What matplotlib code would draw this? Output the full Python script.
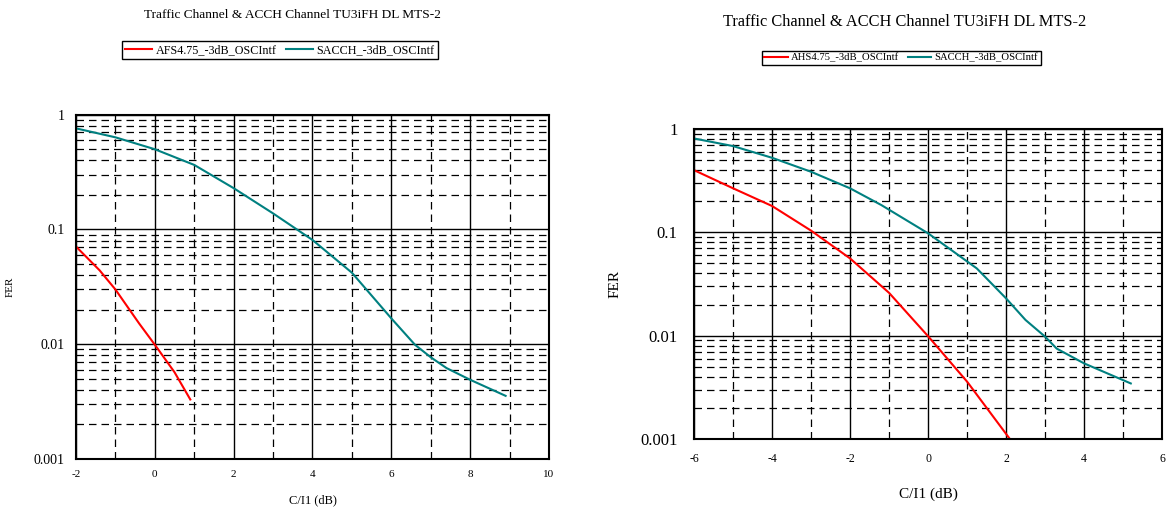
import numpy as np
import matplotlib
matplotlib.use("Agg")
import matplotlib.pyplot as plt
from matplotlib.ticker import FixedLocator, LogLocator, NullFormatter, FixedFormatter

plt.rcParams['font.family'] = ['Liberation Serif', 'DejaVu Serif']
plt.rcParams['axes.unicode_minus'] = False

TITLE = "Traffic Channel & ACCH Channel TU3iFH DL MTS-2"

# left chart (full rate)
afs_x = [-2, -1.4, -1, -0.4, 0, 0.5, 0.9]
afs_fer = [0.071, 0.044, 0.030, 0.0152, 0.0099, 0.0057, 0.0033]
sacch_l_x = [-2, -1, 0, 1, 2, 3, 4, 5, 6, 6.6, 7, 7.4, 8, 8.9]
sacch_l_fer = [0.76, 0.635, 0.50, 0.365, 0.229, 0.138, 0.081, 0.042, 0.0168,
               0.0099, 0.0077, 0.0062, 0.0049, 0.00355]

# right chart (half rate)
ahs_x = [-6, -5, -4, -3, -2, -1, 0, 1, 2.1]
ahs_fer = [0.40, 0.267, 0.18, 0.104, 0.056, 0.026, 0.0099, 0.0036, 0.001]
sacch_r_x = [-6, -5, -4, -3, -2, -1.2, 0, 1.25, 2, 2.5, 3, 3.3, 4, 5.2]
sacch_r_fer = [0.81, 0.684, 0.527, 0.386, 0.267, 0.184, 0.098, 0.0448, 0.023,
               0.0142, 0.0098, 0.0075, 0.0054, 0.00345]

RED = "#ff0000"
TEAL = "#008080"

fig = plt.figure(figsize=(11.69, 5.07), dpi=100)


def setup(ax, xlim, ylab_size, xlab_size, ypad, xpad):
    ax.set_yscale('log')
    ax.set_xlim(*xlim)
    ax.set_ylim(0.001, 1)
    ax.xaxis.set_major_locator(FixedLocator(np.arange(xlim[0], xlim[1] + 1, 2)))
    ax.xaxis.set_minor_locator(FixedLocator(np.arange(xlim[0] + 1, xlim[1], 2)))
    ax.yaxis.set_major_locator(FixedLocator([0.001, 0.01, 0.1, 1]))
    ax.yaxis.set_major_formatter(FixedFormatter(["0.001", "0.01", "0.1", "1"]))
    ax.yaxis.set_minor_locator(LogLocator(base=10, subs=np.arange(2, 10)))
    ax.yaxis.set_minor_formatter(NullFormatter())
    ax.grid(which='major', color='black', lw=1.0, ls='-')
    ax.grid(which='minor', color='black', lw=0.9, ls=(0, (6, 4)))
    ax.tick_params(which='both', length=0)
    ax.tick_params(axis='y', labelsize=ylab_size, pad=ypad)
    ax.tick_params(axis='x', labelsize=xlab_size, pad=xpad)
    for s in ax.spines.values():
        s.set_linewidth(1.5)
    ax.set_axisbelow(True)


# ---- left
ax1 = fig.add_axes([0.0650, 0.0947, 0.4046, 0.6791])
setup(ax1, (-2, 10), 10, 8, 8, 8)
l1, = ax1.plot(afs_x, afs_fer, color=RED, lw=1.5, label="AFS4.75_-3dB_OSCIntf")
l2, = ax1.plot(sacch_l_x, sacch_l_fer, color=TEAL, lw=1.5, label="SACCH_-3dB_OSCIntf")
ax1.set_ylabel("FER", fontsize=8)
ax1.yaxis.set_label_coords(-0.129, 0.5)
ax1.set_xlabel("C/I1 (dB)", fontsize=9)
ax1.xaxis.set_label_coords(0.5, -0.102)
fig.text(292 / 1169, 1 - 15 / 507, TITLE, ha='center', va='center', fontsize=9.6)
fig.legend(handles=[l1, l2], loc='center', ncol=2,
           bbox_to_anchor=(280 / 1169, 1 - 50 / 507), fontsize=8.7,
           fancybox=False, edgecolor='black', framealpha=1,
           handlelength=2.2, handletextpad=0.3, columnspacing=0.8,
           borderpad=0.25).get_frame().set_linewidth(1.0)

# ---- right
ax2 = fig.add_axes([0.5937, 0.1341, 0.4003, 0.6114])
setup(ax2, (-6, 6), 12, 8.5, 12, 10)
r1, = ax2.plot(ahs_x, ahs_fer, color=RED, lw=1.5, label="AHS4.75_-3dB_OSCIntf")
r2, = ax2.plot(sacch_r_x, sacch_r_fer, color=TEAL, lw=1.5, label="SACCH_-3dB_OSCIntf")
ax2.set_ylabel("FER", fontsize=11)
ax2.yaxis.set_label_coords(-0.154, 0.5)
ax2.set_xlabel("C/I1 (dB)", fontsize=11)
ax2.xaxis.set_label_coords(0.5, -0.155)
fig.text(905 / 1169, 1 - 22 / 507, TITLE, ha='center', va='center', fontsize=11.8)
fig.legend(handles=[r1, r2], loc='center', ncol=2,
           bbox_to_anchor=(901 / 1169, 1 - 58 / 507), fontsize=7.7,
           fancybox=False, edgecolor='black', framealpha=1,
           handlelength=2.2, handletextpad=0.3, columnspacing=0.8,
           borderpad=0.25).get_frame().set_linewidth(1.0)

fig.savefig("out.png", dpi=100)
